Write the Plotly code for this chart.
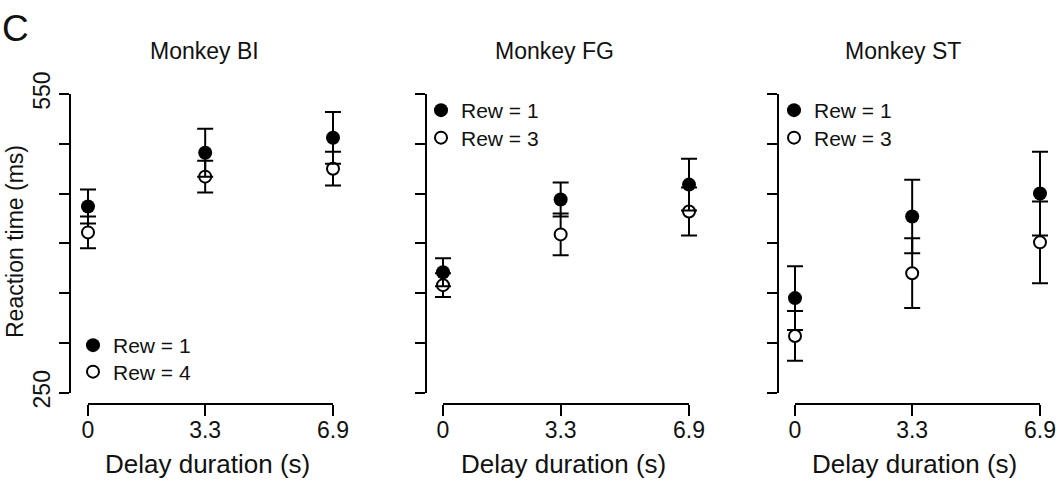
import plotly.graph_objects as go

W, H = 1056, 483

delays = [0, 3.3, 6.9]
delay_ticks = ["0", "3.3", "6.9"]
monkeys = ["Monkey BI", "Monkey FG", "Monkey ST"]
low_labels = ["Rew = 1", "Rew = 1", "Rew = 1"]
high_labels = ["Rew = 4", "Rew = 3", "Rew = 3"]

bi_rew1 = [437, 491, 506]
bi_rew1_err = [17, 24, 26]
bi_rewhi = [411, 467, 475]
bi_rewhi_err = [16, 16, 17]

fg_rew1 = [371, 444, 459]
fg_rew1_err = [14, 17, 26]
fg_rewhi = [358, 409, 432]
fg_rewhi_err = [12, 21, 24]

st_rew1 = [345, 427, 450]
st_rew1_err = [32, 37, 42]
st_rewhi = [307, 370, 401]
st_rewhi_err = [25, 35, 41]

y_ticks = [250, 300, 350, 400, 450, 500, 550]
y_ticktext = ["250", "", "", "", "", "", "550"]

low_series = [(bi_rew1, bi_rew1_err), (fg_rew1, fg_rew1_err), (st_rew1, st_rew1_err)]
high_series = [(bi_rewhi, bi_rewhi_err), (fg_rewhi, fg_rewhi_err), (st_rewhi, st_rewhi_err)]

# layout in pixels
yaxis_x = [70, 426, 778]
xaxis_x0 = [88, 443, 795]     # pixel of delay 0
xaxis_x1 = [333, 689, 1040]   # pixel of delay 6.9
x_pad_lo, x_pad_hi = 0.5, 0.4  # extra range so caps are not clipped
y_top, y_bot = 94, 392.7
xaxis_y = 404
title_x = [204, 554, 903]
# legend marker centres (px): (x, y_low, y_high)
legend_marks = [(93, 344, 370.5), (441, 109, 136.5), (794, 109, 136.5)]

FONT = "Arial, Liberation Sans, sans-serif"
TXT = "#111111"

def px(x):
    return x / W

def py(y):
    return 1 - y / H

fig = go.Figure()
layout = dict(
    width=W, height=H, margin=dict(l=0, r=0, t=0, b=0, autoexpand=False),
    plot_bgcolor="rgba(0,0,0,0)", paper_bgcolor="white",
    font=dict(family=FONT, color=TXT),
    showlegend=True,
)
annotations = []
shapes = []

def legend_def(cx, cy):
    return dict(
        x=px(cx - 20), y=py(cy - 19), xanchor="left", yanchor="top",
        bgcolor="rgba(0,0,0,0)", borderwidth=0,
        font=dict(size=21, family=FONT, color=TXT),
        itemsizing="trace",
    )

for i in range(3):
    sfx = "" if i == 0 else str(i + 1)
    xa, ya = "x" + sfx, "y" + sfx
    leg_lo = "legend" + ("" if i == 0 else str(2 * i + 1))
    leg_hi = "legend" + str(2 * i + 2)
    lv, le = low_series[i]
    hv, he = high_series[i]
    # open markers first, filled on top
    fig.add_trace(go.Scatter(
        x=delays, y=hv, mode="markers", name=high_labels[i],
        xaxis=xa, yaxis=ya, legend=leg_hi, cliponaxis=False,
        marker=dict(symbol="circle", size=12, color="white", line=dict(width=2, color="black")),
        error_y=dict(type="data", array=he, visible=True, color="black", thickness=2, width=8),
    ))
    fig.add_trace(go.Scatter(
        x=delays, y=lv, mode="markers", name=low_labels[i],
        xaxis=xa, yaxis=ya, legend=leg_lo, cliponaxis=False,
        marker=dict(symbol="circle", size=14, color="black", line=dict(width=0)),
        error_y=dict(type="data", array=le, visible=True, color="black", thickness=2, width=8),
    ))
    ppu = (xaxis_x1[i] - xaxis_x0[i]) / (delays[-1] - delays[0])
    d0 = xaxis_x0[i] - x_pad_lo * ppu
    d1 = xaxis_x1[i] + x_pad_hi * ppu
    layout["xaxis" + sfx] = dict(
        domain=[px(d0), px(d1)], range=[delays[0] - x_pad_lo, delays[-1] + x_pad_hi],
        anchor="free", position=py(xaxis_y),
        showline=False,
        ticks="outside", ticklen=11, tickwidth=2, tickcolor="black",
        tickvals=delays, ticktext=delay_ticks, ticklabelstandoff=-6,
        tickfont=dict(size=23, family=FONT, color=TXT),
        showgrid=False, zeroline=False, fixedrange=True,
    )
    shapes.append(dict(
        type="line", xref=xa, yref="paper",
        x0=delays[0], x1=delays[-1], y0=py(xaxis_y), y1=py(xaxis_y),
        line=dict(color="black", width=2),
    ))
    layout["yaxis" + sfx] = dict(
        domain=[py(y_bot), py(y_top)], range=[250, 550],
        anchor="free", position=px(yaxis_x[i]),
        showline=True, linewidth=2, linecolor="black",
        ticks="outside", ticklen=10, tickwidth=2, tickcolor="black",
        tickvals=y_ticks, ticktext=y_ticktext if i == 0 else [""] * len(y_ticks),
        tickangle=-90, tickfont=dict(size=23, family=FONT, color=TXT),
        showgrid=False, zeroline=False, fixedrange=True,
    )
    cx, cy_lo, cy_hi = legend_marks[i]
    layout[leg_lo] = legend_def(cx, cy_lo)
    layout[leg_hi] = legend_def(cx, cy_hi)
    annotations.append(dict(
        text=monkeys[i], x=px(title_x[i]), y=py(51), xref="paper", yref="paper",
        xanchor="center", yanchor="middle", showarrow=False,
        font=dict(size=23, family=FONT, color=TXT),
    ))
    annotations.append(dict(
        text="Delay duration (s)", x=px((xaxis_x0[i] + xaxis_x1[i]) / 2 - 3), y=py(464),
        xref="paper", yref="paper", xanchor="center", yanchor="middle", showarrow=False,
        font=dict(size=26, family=FONT, color=TXT),
    ))

annotations.append(dict(
    text="Reaction time (ms)", x=px(15), y=py(242), xref="paper", yref="paper",
    xanchor="center", yanchor="middle", showarrow=False, textangle=-90,
    font=dict(size=23, family=FONT, color=TXT),
))
annotations.append(dict(
    text="C", x=px(0), y=py(29), xref="paper", yref="paper",
    xanchor="left", yanchor="middle", showarrow=False,
    font=dict(size=37, family=FONT, color=TXT),
))
layout["annotations"] = annotations
layout["shapes"] = shapes
fig.update_layout(**layout)
fig.write_html("out.html")
